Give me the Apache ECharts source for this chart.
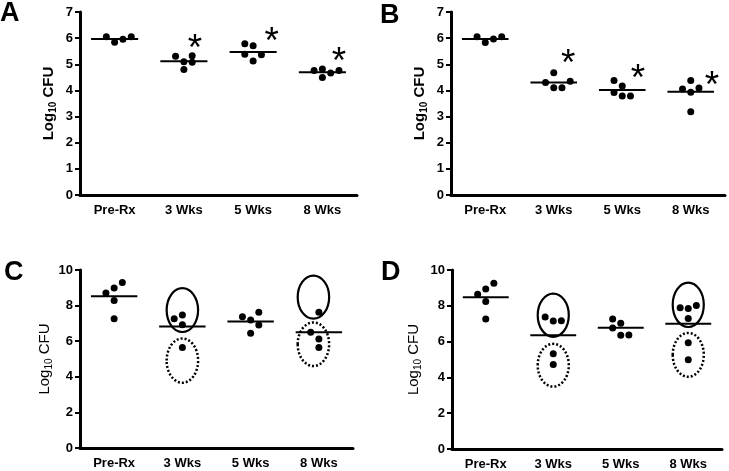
<!DOCTYPE html>
<html><head><meta charset="utf-8">
<script src="https://cdn.jsdelivr.net/npm/echarts@6/dist/echarts.min.js"></script>
<style>html,body{margin:0;padding:0;background:#fff}#c{width:729px;height:471px}</style>
</head><body><div id="c"></div>
<script>
// ---------- DATA ----------
const categories = ['Pre-Rx', '3 Wks', '5 Wks', '8 Wks'];
const panelLetters = ['A', 'B', 'C', 'D'];
const yMaxAB = 7, yStepAB = 1;
const yMaxCD = 10, yStepCD = 2;

const dotsA = [[6.05, 5.84, 5.96, 6.05], [5.31, 5.10, 5.33, 5.08, 4.80], [5.79, 5.71, 5.38, 5.36, 5.13], [4.76, 4.82, 4.67, 4.76, 4.49]];
const meansA = [5.97, 5.12, 5.47, 4.70];
const starsA = [null, 5.85, 6.11, 5.35];

const dotsB = [[6.05, 5.83, 5.97, 6.05], [4.30, 4.68, 4.10, 4.10, 4.35], [4.38, 4.17, 3.92, 3.79, 3.79], [4.05, 4.38, 3.93, 4.09, 3.18]];
const meansB = [5.97, 4.30, 4.02, 3.95];
const starsB = [null, 5.28, 4.71, 4.45];

const dotsC = [[8.71, 8.99, 9.30, 8.28, 7.26], [7.26, 7.47, 6.93, 5.65], [7.38, 7.62, 7.19, 6.91, 6.44], [7.62, 6.50, 6.12, 5.65]];
const meansC = [8.52, 6.83, 7.11, 6.50];
// ellipses: [group, low, high, dotted(0/1)]
const ellipsesC = [[1, 6.46, 9.04, 0], [1, 3.61, 6.21, 1], [3, 7.21, 9.74, 0], [3, 4.55, 7.11, 1]];

const dotsD = [[8.65, 8.94, 9.26, 8.24, 7.26], [7.37, 7.15, 7.17, 5.32, 4.72], [7.26, 7.02, 6.76, 6.35, 6.37], [7.89, 7.85, 8.02, 7.29, 5.93, 4.98]];
const meansD = [8.48, 6.35, 6.78, 7.00];
const ellipsesD = [[1, 6.21, 8.74, 0], [1, 3.43, 5.93, 1], [3, 6.76, 9.35, 0], [3, 3.98, 6.54, 1]];

// ---------- LAYOUT (positions / styles) ----------
const slotsA = [[-1, 0, 1, 2], [-1, 0, 1, 1, 0], [-1, 0, -1, 1, 0], [-1, 0, 1, 2, 0]];
const slotsB = [[-1, 0, 1, 2], [-1, 0, 0, 1, 2], [-1, 0, -1, 0, 1], [-1, 0, 0, 1, 0]];
const slotsC = [[-1, 0, 1, 0, 0], [-1, 0, 0, 0], [-1, 1, 0, 1, 0], [0, -1, 0, 0]];
const slotsD = [[-1, 0, 1, 0, 0], [-1, 0, 1, 0, 0], [-1, 0, -1, 0, 1], [-1, 0, 1, 0, 0, 0]];
const starDxA = [0, 0.16, 0.27, 0.24];
const starDxB = [0, 0.21, 0.23, 0.31];
const ellDxC = [0, 0, -0.08, -0.08];
const ellDxD = [0, 0, 0, 0];
const SLOT = 0.12, HALF = 0.34, ERX = 0.245;
const FONT = '"Liberation Sans", Arial, sans-serif';

const grids = [
  {left: 80, top: 12, width: 277, height: 183},
  {left: 451, top: 12, width: 274, height: 183},
  {left: 80, top: 270, width: 273, height: 178},
  {left: 452, top: 270, width: 270, height: 180}
];
const letterPos = [[0, 0], [380, 2], [4, 259], [381, 259]];
const nameGaps = [22, 22, 26, 29];
const nameBold = [true, true, false, false];

const panels = [
  {dots: dotsA, slots: slotsA, means: meansA, stars: starsA, starDx: starDxA, ymax: yMaxAB, step: yStepAB},
  {dots: dotsB, slots: slotsB, means: meansB, stars: starsB, starDx: starDxB, ymax: yMaxAB, step: yStepAB},
  {dots: dotsC, slots: slotsC, means: meansC, ell: ellipsesC, ellDx: ellDxC, ymax: yMaxCD, step: yStepCD},
  {dots: dotsD, slots: slotsD, means: meansD, ell: ellipsesD, ellDx: ellDxD, ymax: yMaxCD, step: yStepCD}
];

const option = {animation: false, backgroundColor: '#fff', grid: grids, xAxis: [], yAxis: [], series: [], title: []};

panels.forEach((p, i) => {
  option.title.push({text: panelLetters[i], left: letterPos[i][0], top: letterPos[i][1], padding: 0,
    textStyle: {fontFamily: FONT, fontSize: 27, fontWeight: 'bold', color: '#000'}});
  // visible category axis
  option.xAxis.push({type: 'category', gridIndex: i, data: categories, boundaryGap: true,
    axisLine: {onZero: false, lineStyle: {color: '#000', width: 3}},
    axisTick: {alignWithLabel: true, length: 5, lineStyle: {color: '#000', width: 2}},
    axisLabel: {color: '#000', fontFamily: FONT, fontSize: 13, fontWeight: 'bold', margin: 9},
    splitLine: {show: false}});
  // hidden value axis for placing marks within categories
  option.xAxis.push({type: 'value', gridIndex: i, min: -0.5, max: 3.5, show: false});
  option.yAxis.push({type: 'value', gridIndex: i, min: 0, max: p.ymax, interval: p.step,
    name: '{m|Log}{s|10}{m| CFU}', nameLocation: 'middle', nameRotate: 90, nameGap: nameGaps[i],
    nameTextStyle: {rich: {
      m: {fontFamily: FONT, fontSize: 15, fontWeight: nameBold[i] ? 'bold' : 'normal', color: '#000', lineHeight: 18},
      s: {fontFamily: FONT, fontSize: 10, fontWeight: nameBold[i] ? 'bold' : 'normal', color: '#000', verticalAlign: 'bottom', lineHeight: 18, padding: [6, 0, 0, 0]}
    }},
    axisLine: {show: true, onZero: false, lineStyle: {color: '#000', width: 3}},
    axisTick: {show: true, length: 5, lineStyle: {color: '#000', width: 2}},
    axisLabel: {color: '#000', fontFamily: FONT, fontSize: 13, fontWeight: 'bold', margin: 7},
    splitLine: {show: false}});
  const xi = i * 2 + 1, yi = i;
  const pts = [];
  p.dots.forEach((g, gi) => g.forEach((v, k) => pts.push([gi + p.slots[gi][k] * SLOT, v])));
  option.series.push({type: 'scatter', xAxisIndex: xi, yAxisIndex: yi, data: pts, symbol: 'circle', symbolSize: 7,
    itemStyle: {color: '#000', opacity: 1}, z: 5});
  option.series.push({type: 'custom', xAxisIndex: xi, yAxisIndex: yi, data: p.means.map((m, gi) => [gi, m]),
    renderItem: (params, api) => {
      const a = api.coord([api.value(0) - HALF, api.value(1)]);
      const b = api.coord([api.value(0) + HALF, api.value(1)]);
      return {type: 'line', shape: {x1: a[0], y1: a[1], x2: b[0], y2: b[1]}, style: {stroke: '#000', lineWidth: 2}};
    }, z: 4});
  if (p.stars) {
    const sd = [];
    p.stars.forEach((s, gi) => { if (s != null) sd.push([gi + p.starDx[gi], s]); });
    option.series.push({type: 'custom', xAxisIndex: xi, yAxisIndex: yi, data: sd,
      renderItem: (params, api) => {
        const c = api.coord([api.value(0), api.value(1)]);
        return {type: 'text', x: c[0], y: c[1] + 8, style: {text: '*', fontFamily: FONT, fontSize: 37, fill: '#000', align: 'center', verticalAlign: 'middle'}};
      }, z: 6});
  }
  if (p.ell) {
    option.series.push({type: 'custom', xAxisIndex: xi, yAxisIndex: yi,
      data: p.ell.map((e, k) => [e[0] + p.ellDx[k], e[1], e[2], e[3]]),
      encode: {x: 0, y: [1, 2]},
      renderItem: (params, api) => {
        const lo = api.coord([api.value(0), api.value(1)]);
        const hi = api.coord([api.value(0), api.value(2)]);
        const rx = api.size([ERX, 0])[0];
        const dotted = api.value(3) === 1;
        return {type: 'ellipse', shape: {cx: lo[0], cy: (lo[1] + hi[1]) / 2, rx: rx - 1, ry: Math.abs(lo[1] - hi[1]) / 2 - 1},
          style: {fill: 'none', stroke: '#000', lineWidth: dotted ? 2.5 : 2.2, lineDash: dotted ? [2, 2] : null}};
      }, z: 3});
  }
});

const chart = echarts.init(document.getElementById('c'), null, {renderer: 'canvas'});
chart.setOption(option);
</script></body></html>
